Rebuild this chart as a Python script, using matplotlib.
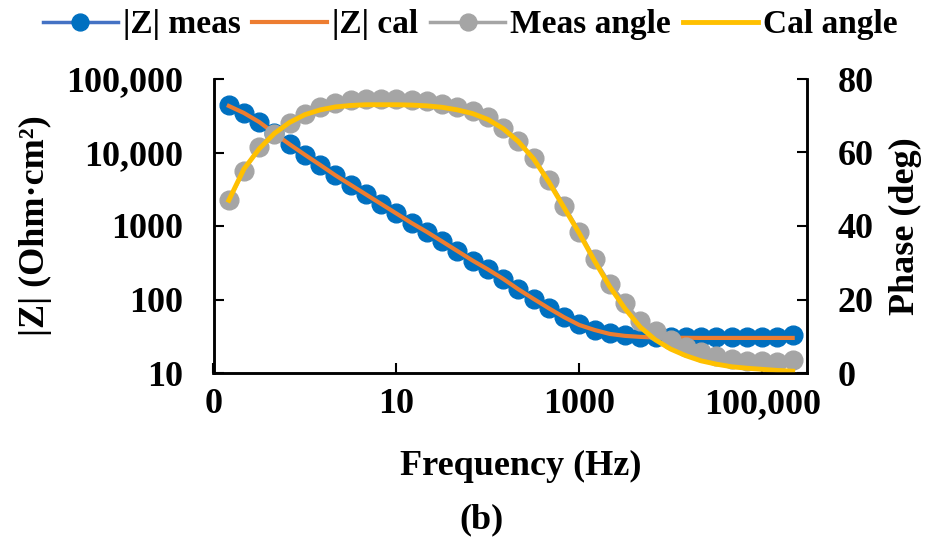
import matplotlib
matplotlib.use("Agg")
import matplotlib.pyplot as plt
from matplotlib.ticker import FixedLocator, FixedFormatter, NullLocator

# ---------------- data ----------------
freq = [0.147, 0.215, 0.316, 0.464, 0.681, 1.0, 1.47, 2.15, 3.16, 4.64,
        6.81, 10.0, 14.7, 21.5, 31.6, 46.4, 68.1, 100, 147, 215,
        316, 464, 681, 1000, 1468, 2154, 3162, 4642, 6813, 10000,
        14678, 21544, 31623, 46416, 68129, 100000, 146780, 215443]

z_meas = [43600, 35000, 26300, 18200, 12900, 9300, 6800, 4900, 3630, 2690,
          1995, 1480, 1096, 832, 617, 457, 339, 257, 191, 138,
          102, 76, 57.5, 45.7, 38.9, 34.7, 32.4, 31.2, 30.9, 30.9,
          30.9, 30.9, 30.9, 30.9, 30.9, 31.0, 31.3, 33.0]

z_cal = [43000, 34500, 26000, 18200, 12900, 9300, 6760, 4900, 3630, 2690,
         1995, 1480, 1096, 832, 617, 457, 339, 257, 191, 138,
         102, 76, 57.5, 45.0, 38.5, 34.0, 32.0, 31.0, 30.4, 30.2,
         30.1, 30.0, 30.0, 30.0, 30.0, 30.0, 30.0, 30.0]

ang_meas = [47.0, 55.0, 61.5, 65.0, 68.0, 70.5, 72.3, 73.6, 74.2, 74.5,
            74.6, 74.6, 74.4, 74.0, 73.2, 72.3, 71.3, 69.6, 66.8, 63.0,
            58.5, 52.5, 45.5, 38.5, 31.0, 24.3, 19.0, 14.2, 11.5, 9.0,
            7.2, 5.6, 4.5, 3.9, 3.4, 3.2, 3.1, 3.5]

ang_cal = [47.0, 55.5, 61.0, 65.2, 68.2, 70.3, 71.6, 72.4, 72.8, 73.0,
           73.0, 73.0, 72.9, 72.7, 72.3, 71.6, 70.6, 69.0, 66.5, 63.0,
           58.3, 52.0, 45.0, 38.0, 30.5, 23.5, 17.5, 12.5, 9.0, 6.5,
           4.7, 3.3, 2.4, 1.7, 1.3, 1.0, 0.7, 0.5]

x_ticks = [0.1, 10, 1000, 100000]
x_ticklabels = ["0", "10", "1000", "100,000"]
y_ticks = [10, 100, 1000, 10000, 100000]
y_ticklabels = ["10", "100", "1000", "10,000", "100,000"]
y2_ticks = [0, 20, 40, 60, 80]
y2_ticklabels = ["0", "20", "40", "60", "80"]

series_names = ["|Z| meas", "|Z| cal", "Meas angle", "Cal angle"]

# ---------------- style ----------------
FONT = ["Liberation Serif", "DejaVu Serif"]
plt.rcParams["font.family"] = FONT
plt.rcParams["font.weight"] = "bold"
FS = 26

C_BLUE = "#0070C0"
C_BLUE_LINE = "#4472C4"
C_ORANGE = "#ED7D31"
C_GRAY = "#A5A5A5"
C_YELLOW = "#FFC000"

fig = plt.figure(figsize=(9.32, 5.47), dpi=100)
ax = fig.add_axes([213.5 / 932, 1 - 373 / 547, (807 - 213.5) / 932, (373 - 79) / 547])
ax2 = ax.twinx()

l1, = ax.plot(freq, z_meas, "-", color=C_BLUE_LINE, lw=2.5, marker="o",
              ms=13.5, mfc=C_BLUE, mec=C_BLUE, label=series_names[0])
l2, = ax.plot(freq, z_cal, "-", color=C_ORANGE, lw=3.0, label=series_names[1])
l3, = ax2.plot(freq, ang_meas, "-", color=C_GRAY, lw=2.5, marker="o",
               ms=13.5, mfc=C_GRAY, mec=C_GRAY, label=series_names[2])
l4, = ax2.plot(freq, ang_cal, "-", color=C_YELLOW, lw=3.5, label=series_names[3])

ax.set_xscale("log")
ax.set_yscale("log")
ax.set_xlim(0.1, 10 ** 5.49)
ax.set_ylim(10, 100000)
ax2.set_ylim(0, 80)

ax.xaxis.set_major_locator(FixedLocator(x_ticks))
ax.xaxis.set_major_formatter(FixedFormatter(x_ticklabels))
ax.xaxis.set_minor_locator(NullLocator())
ax.yaxis.set_major_locator(FixedLocator(y_ticks))
ax.yaxis.set_major_formatter(FixedFormatter(y_ticklabels))
ax.yaxis.set_minor_locator(NullLocator())
ax2.yaxis.set_major_locator(FixedLocator(y2_ticks))
ax2.yaxis.set_major_formatter(FixedFormatter(y2_ticklabels))
ax2.yaxis.set_minor_locator(NullLocator())

for a in (ax, ax2):
    for s in a.spines.values():
        s.set_linewidth(1.8)
        s.set_color("black")
    a.spines["top"].set_visible(False)

ax.tick_params(axis="x", direction="in", length=7, width=1.5, pad=11, labelsize=FS)
ax.tick_params(axis="y", direction="in", length=7, width=1.5, pad=22, labelsize=FS)
ax2.tick_params(axis="y", direction="in", length=7, width=1.5, pad=22, labelsize=FS)
for lab in ax.get_xticklabels() + ax.get_yticklabels() + ax2.get_yticklabels():
    lab.set_fontweight("bold")

fig.text(35 / 932, 1 - 226 / 547, "|Z| (Ohm·cm²)", rotation=90, ha="center",
         va="center", fontsize=FS, fontweight="bold")
fig.text(905 / 932, 1 - 226 / 547, "Phase (deg)", rotation=90, ha="center",
         va="center", fontsize=FS, fontweight="bold")
fig.text(521 / 932, 1 - 466 / 547, "Frequency (Hz)", ha="center", va="center",
         fontsize=FS, fontweight="bold")
fig.text(481 / 932, 1 - 520 / 547, "(b)", ha="center", va="center",
         fontsize=FS, fontweight="bold")

leg = fig.legend([l1, l2, l3, l4], series_names, loc="center",
                 bbox_to_anchor=(470 / 932, 1 - 25 / 547), ncol=4, frameon=False,
                 fontsize=24, handlelength=2.25, handletextpad=0.15,
                 columnspacing=0.35, borderaxespad=0, markerscale=0.9)
for t in leg.get_texts():
    t.set_fontweight("bold")

fig.savefig("out.png", dpi=100)
